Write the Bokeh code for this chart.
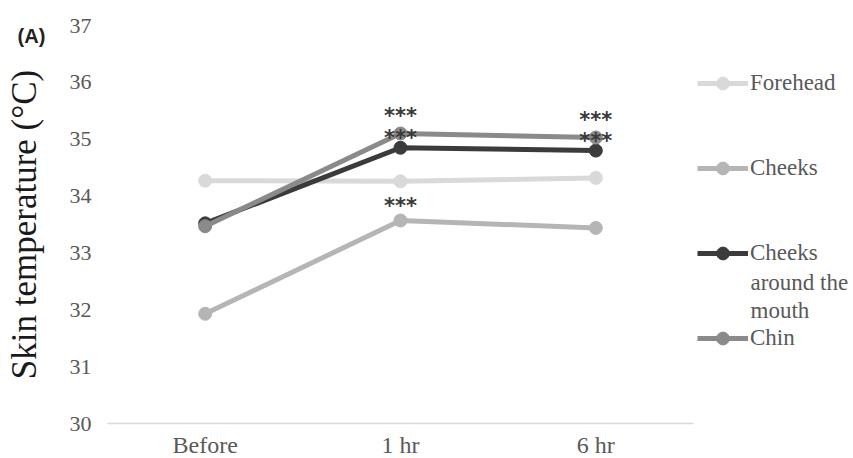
from bokeh.plotting import figure
from bokeh.models import Range1d, FixedTicker, Legend, LegendItem, ColumnDataSource
from bokeh.core.properties import value
from bokeh.embed import file_html
from bokeh.resources import INLINE

# ---------------- data ----------------
times = ["Before", "1 hr", "6 hr"]
forehead = [34.27, 34.26, 34.32]
cheeks = [31.93, 33.57, 33.44]
cheeks_mouth = [33.52, 34.85, 34.80]
chin = [33.47, 35.10, 35.03]
y_ticks = [30, 31, 32, 33, 34, 35, 36, 37]

series_names = ["Forehead", "Cheeks", "Cheeks around the mouth", "Chin"]
series_values = [forehead, cheeks, cheeks_mouth, chin]

# significance markers (which series / time point carries "***")
sig_series = ["Chin", "Cheeks around the mouth", "Cheeks", "Chin", "Cheeks around the mouth"]
sig_times = ["1 hr", "1 hr", "1 hr", "6 hr", "6 hr"]
sig_text = "***"

# ---------------- styles / layout ----------------
series_colors = ["#d9d9d9", "#b5b5b5", "#3b3b3b", "#8a8a8a"]
sig_offsets = [-18, -10, -15, -18, -10]   # screen px above the point
SERIF = "Liberation Serif"
TICK_COLOR = "#595959"

W, H = 853, 458
# pixel box of the plotting area (axis extents) inside the canvas
AX_L, AX_R, AX_T, AX_B = 107, 693, 25, 423
x_lo, x_hi = -0.5, len(times) - 0.5
y_lo, y_hi = y_ticks[0], y_ticks[-1]
xppu = (AX_R - AX_L) / (x_hi - x_lo)
yppu = (AX_B - AX_T) / (y_hi - y_lo)
x_range = Range1d(x_lo - AX_L / xppu, x_hi + (W - AX_R) / xppu)
y_range = Range1d(y_lo - (H - AX_B) / yppu, y_hi + AX_T / yppu)


def px_x(px):
    return x_range.start + px / xppu


def px_y(py):
    return y_range.end - py / yppu


p = figure(width=W, height=H, output_backend="svg", toolbar_location=None,
           x_range=x_range, y_range=y_range,
           min_border=0, min_border_left=0, min_border_right=0,
           min_border_top=0, min_border_bottom=0)
p.outline_line_color = None
p.background_fill_color = "white"
p.border_fill_color = "white"
p.xgrid.visible = False
p.ygrid.visible = False

xpos = list(range(len(times)))

# x axis
xa = p.xaxis[0]
xa.fixed_location = y_lo
xa.bounds = (x_lo, x_hi)
xa.ticker = FixedTicker(ticks=xpos)
xa.major_label_overrides = {i: t for i, t in zip(xpos, times)}
xa.axis_line_color = "#d9d9d9"
xa.axis_line_width = 1.3
xa.major_tick_line_color = None
xa.minor_tick_line_color = None
xa.major_label_text_font = SERIF
xa.major_label_text_font_size = "24px"
xa.major_label_text_color = TICK_COLOR
xa.major_label_standoff = 2

# y axis
ya = p.yaxis[0]
ya.fixed_location = x_lo
ya.bounds = (y_lo, y_hi)
ya.ticker = FixedTicker(ticks=y_ticks)
ya.axis_line_color = None
ya.major_tick_line_color = None
ya.minor_tick_line_color = None
ya.major_label_text_font = SERIF
ya.major_label_text_font_size = "22px"
ya.major_label_text_color = TICK_COLOR
ya.major_label_standoff = 10
ya.axis_label = "Skin temperature (°C)"
ya.axis_label_text_font = SERIF
ya.axis_label_text_font_size = "35px"
ya.axis_label_text_font_style = "normal"
ya.axis_label_text_color = "#1a1a1a"
ya.axis_label_standoff = 23

items = []
lookup = {}
for name, vals, col in zip(series_names, series_values, series_colors):
    src = ColumnDataSource(dict(x=xpos, y=vals))
    lr = p.line("x", "y", source=src, line_color=col, line_width=5)
    sr = p.scatter("x", "y", source=src, size=13, fill_color=col, line_color=col)
    lookup[name] = dict(zip(times, vals))
    label = "Cheeks" if name == "Cheeks around the mouth" else name
    items.append(LegendItem(label=label, renderers=[lr, sr]))

# significance asterisks
sig_x = [times.index(t) for t in sig_times]
sig_y = [lookup[s][t] for s, t in zip(sig_series, sig_times)]
sig_src = ColumnDataSource(dict(x=sig_x, y=sig_y, t=[sig_text] * len(sig_times), off=sig_offsets))
p.text("x", "y", text="t", source=sig_src, y_offset="off",
       text_font=value("DejaVu Sans"), text_font_size="21px", text_font_style="bold",
       text_color="#3a3a3a", text_align="center", text_baseline="middle")

# legend (screen units measured from the bottom-left of the canvas)
legend = Legend(items=items, location=(697, H - 354), orientation="vertical",
                glyph_width=51, glyph_height=32, label_height=32, spacing=53,
                padding=0, margin=0, label_standoff=2,
                border_line_color=None, background_fill_alpha=0,
                label_text_font=SERIF, label_text_font_size="23px", label_text_color=TICK_COLOR)
p.add_layout(legend, "center")

# continuation lines of the wrapped legend label
p.text(x=[px_x(750), px_x(750)], y=[px_y(282), px_y(310)], text=["around the", "mouth"],
       text_font=value(SERIF), text_font_size="23px", text_color=TICK_COLOR,
       text_align="left", text_baseline="middle")

# panel tag
p.text(x=[px_x(31)], y=[px_y(35)], text=["(A)"],
       text_font=value("Liberation Sans"), text_font_style="bold", text_font_size="20px",
       text_color="#222222", text_align="center", text_baseline="middle")

open("out.html", "w").write(file_html(p, INLINE))
